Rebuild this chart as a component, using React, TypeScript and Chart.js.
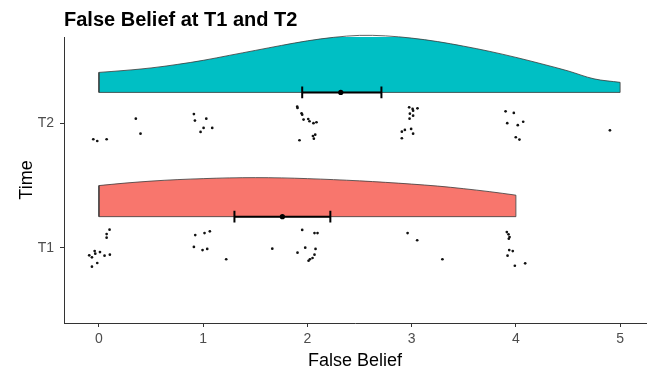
import React, { useEffect, useRef } from "react";
import { Chart, registerables } from "chart.js";

Chart.register(...registerables);

// ---- data ----
const chartTitle = "False Belief at T1 and T2";
const xAxisTitle = "False Belief";
const yAxisTitle = "Time";
const xTicks = [0, 1, 2, 3, 4, 5];
const groupLabels = ["T1", "T2"];
const groupPositions = [1, 2];
const violinNudge = 0.25;

// density curves (height of half violin), evaluated on grids
const densityXT1 = [0, 0.25, 0.5, 0.75, 1, 1.25, 1.5, 1.75, 2, 2.25, 2.5, 2.75, 3, 3.25, 3.5, 3.75, 4];
const densityT1 = [0.25, 0.27, 0.286, 0.298, 0.306, 0.312, 0.314, 0.312, 0.306, 0.298, 0.288, 0.276, 0.262, 0.246, 0.225, 0.201, 0.173];
const densityXT2 = [0, 0.25, 0.5, 0.75, 1, 1.25, 1.5, 1.75, 2, 2.25, 2.5, 2.75, 3, 3.25, 3.5, 3.75, 4, 4.25, 4.5, 4.75, 5];
const densityT2 = [0.161, 0.177, 0.197, 0.225, 0.258, 0.298, 0.338, 0.378, 0.415, 0.443, 0.459, 0.455, 0.437, 0.409, 0.372, 0.33, 0.282, 0.229, 0.173, 0.109, 0.081];

// jittered raw observations
const pointsT1X = [0.102, 0.074, 0.074, -0.041, -0.093, -0.067, -0.035, 0.01, 0.054, 0.105, -0.016, -0.067,
  0.924, 1.013, 1.064, 0.911, 0.994, 1.039, 1.221, 1.663,
  1.95, 2.068, 2.097, 1.905, 1.979, 2.078, 2.068, 2.049, 2.024, 2.011,
  2.961, 3.053, 3.295,
  3.913, 3.929, 3.939, 3.932, 3.936, 3.97, 3.92, 3.99, 4.089];
const pointsT1Y = [1.145, 1.11, 1.081, 0.973, 0.939, 0.923, 0.952, 0.965, 0.936, 0.944, 0.877, 0.847,
  1.102, 1.118, 1.132, 1.006, 0.981, 0.99, 0.907, 0.992,
  1.143, 1.118, 1.118, 0.96, 1.0, 0.99, 0.944, 0.917, 0.907, 0.895,
  1.118, 1.06, 0.907,
  1.126, 1.108, 1.086, 1.072, 0.981, 0.973, 0.936, 0.855, 0.874];
const pointsT2X = [-0.054, -0.016, 0.074, 0.354, 0.399,
  0.911, 0.921, 1.03, 1.004, 1.087, 0.975,
  1.902, 1.905, 1.944, 1.95, 1.963, 2.008, 2.02, 2.058, 2.087, 1.924, 2.053, 2.075, 2.062,
  2.976, 3.009, 3.014, 3.056, 2.983, 3.014, 2.98, 2.906, 2.935, 2.995, 3.014, 2.906,
  3.901, 3.98, 3.917, 4.018, 4.07, 3.999, 4.034, 4.902];
const pointsT2Y = [1.873, 1.859, 1.873, 2.039, 1.918,
  2.076, 2.023, 2.039, 1.964, 1.964, 1.932,
  2.135, 2.125, 2.082, 2.071, 2.031, 2.036, 2.018, 2.002, 2.01, 1.865, 1.899, 1.91, 1.878,
  2.13, 2.117, 2.103, 2.122, 2.079, 2.063, 2.039, 1.934, 1.948, 1.956, 1.918, 1.881,
  2.098, 2.085, 2.002, 1.986, 2.014, 1.889, 1.87, 1.945];

const meanValues = [1.76, 2.32];
const ciLow = [1.3, 1.95];
const ciHigh = [2.22, 2.71];

const groupColors = ["#F8766D", "#00BFC4"];

export default function App() {
  const ref = useRef<HTMLCanvasElement | null>(null);

  useEffect(() => {
    const canvas = ref.current;
    if (!canvas) return;
    const outline = "#3a3a3a";
    const datasets: any[] = [];

    // error bars + means (on top)
    groupPositions.forEach((g, i) => {
      const base = g + violinNudge;
      datasets.push({
        type: "scatter",
        data: [{ x: meanValues[i], y: base }],
        pointRadius: 2.6,
        pointBackgroundColor: "#000",
        pointBorderWidth: 0,
      });
      datasets.push({
        type: "line",
        data: [{ x: ciLow[i], y: base }, { x: ciHigh[i], y: base }],
        borderColor: "#000",
        borderWidth: 2,
        pointStyle: "line",
        pointRotation: 90,
        pointRadius: 5.8,
        pointBorderWidth: 2,
        pointBorderColor: "#000",
        fill: false,
        tension: 0,
      });
    });

    // raw points
    const px = [pointsT1X, pointsT2X];
    const py = [pointsT1Y, pointsT2Y];
    groupPositions.forEach((g, i) => {
      datasets.push({
        type: "scatter",
        data: px[i].map((x, k) => ({ x, y: py[i][k] })),
        pointRadius: 1.35,
        pointBackgroundColor: "#111",
        pointBorderWidth: 0,
      });
    });

    // violins
    const dx = [densityXT1, densityXT2];
    const dy = [densityT1, densityT2];
    groupPositions.forEach((g, i) => {
      const base = g + violinNudge;
      const xs = dx[i];
      const ys = dy[i];
      datasets.push({
        type: "line",
        data: [
          { x: xs[0], y: base + ys[0] },
          { x: xs[0], y: base },
          { x: xs[xs.length - 1], y: base },
          { x: xs[xs.length - 1], y: base + ys[ys.length - 1] },
        ],
        borderColor: outline,
        borderWidth: 0.8,
        pointRadius: 0,
        fill: false,
        tension: 0,
        clip: false,
      });
      datasets.push({
        type: "line",
        data: xs.map((x, k) => ({ x, y: base + ys[k] })),
        borderColor: outline,
        borderWidth: 0.8,
        backgroundColor: groupColors[i],
        pointRadius: 0,
        fill: { value: base },
        tension: 0.35,
        clip: false,
      });
    });

    const textPlugin = {
      id: "texts",
      afterDraw(chart: any) {
        const ctx = chart.ctx;
        const area = chart.chartArea;
        ctx.save();
        ctx.fillStyle = "#000";
        ctx.textBaseline = "alphabetic";
        ctx.textAlign = "left";
        ctx.font = "bold 20px 'Liberation Sans', Arial, sans-serif";
        ctx.fillText(chartTitle, area.left, 26);
        ctx.font = "18px 'Liberation Sans', Arial, sans-serif";
        ctx.textAlign = "center";
        ctx.fillText(xAxisTitle, (area.left + area.right) / 2, 366);
        ctx.translate(32, (area.top + area.bottom) / 2);
        ctx.rotate(-Math.PI / 2);
        ctx.fillText(yAxisTitle, 0, 0);
        ctx.restore();
      },
    };

    const font = { family: "'Liberation Sans', Arial, sans-serif", size: 14 };

    const chart = new Chart(canvas, {
      type: "scatter",
      data: { datasets },
      options: {
        animation: false,
        responsive: false,
        devicePixelRatio: 1,
        layout: { padding: { top: 37, right: 6, left: 0, bottom: 0 } },
        plugins: {
          legend: { display: false },
          tooltip: { enabled: false },
          title: { display: false },
        },
        scales: {
          x: {
            type: "linear",
            min: -0.335,
            max: 5.25,
            afterBuildTicks: (s: any) => {
              s.ticks = xTicks.map((v) => ({ value: v }));
            },
            afterFit: (s: any) => {
              s.height = 46;
            },
            grid: { display: true, drawOnChartArea: false, drawTicks: true, tickLength: 4, color: "#333" },
            border: { display: true, color: "#333", width: 1 },
            ticks: { color: "#4D4D4D", font, padding: 4, autoSkip: false, maxRotation: 0 },
          },
          y: {
            type: "linear",
            min: 0.394,
            max: 2.696,
            afterBuildTicks: (s: any) => {
              s.ticks = groupPositions.map((v) => ({ value: v }));
            },
            afterFit: (s: any) => {
              s.width = 64;
            },
            grid: { display: true, drawOnChartArea: false, drawTicks: true, tickLength: 4, color: "#333" },
            border: { display: true, color: "#333", width: 1 },
            ticks: {
              color: "#4D4D4D",
              font,
              padding: 6,
              autoSkip: false,
              callback: (v: any) => {
                const idx = groupPositions.indexOf(Number(v));
                return idx >= 0 ? groupLabels[idx] : "";
              },
            },
          },
        },
      },
      plugins: [textPlugin],
    });
    return () => chart.destroy();
  }, []);

  return (
    <div style={{ position: "fixed", left: 0, top: 0, width: 654, height: 369, background: "#fff" }}>
      <canvas ref={ref} width={654} height={369} style={{ width: 654, height: 369 }} />
    </div>
  );
}
